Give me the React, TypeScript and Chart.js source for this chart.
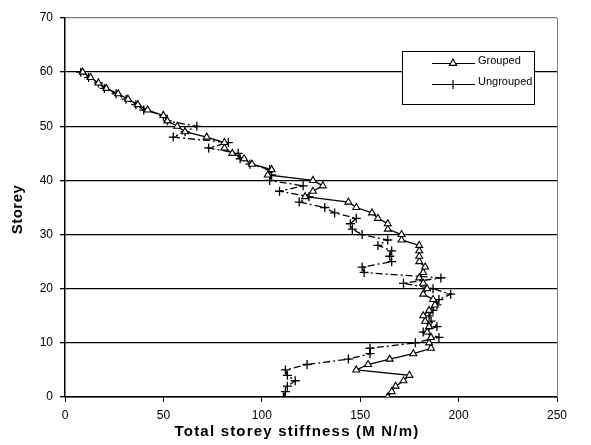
import React, { useEffect, useRef } from "react";
import { Chart, registerables } from "chart.js";

Chart.register(...registerables);

const storeys = [0,1,2,3,4,5,6,7,8,9,10,11,12,13,14,15,16,17,18,19,20,21,22,23,24,25,26,27,28,29,30,31,32,33,34,35,36,37,38,39,40,41,42,43,44,45,46,47,48,49,50,51,52,53,54,55,56,57,58,59,60];

const grouped = [164,166,168,172,175,148,154,165,177,186,185,186,184,185,183,182,185,188,187,182,184,182,180,182,183,180,180,180,180,171,171,164,164,159,156,148,144,122,126,131,126,103,105,95,91,85,81,81,72,61,57,52,50,42,37,32,27,21,17,13,9];

const ungrouped = [111,112,113,117,113,112,123,144,155,155,178,190,182,189,186,185,187,189,190,196,187,172,191,152,151,166,165,166,159,164,151,146,145,148,137,132,119,124,109,121,104,105,104,94,89,88,73,83,55,61,67,52,50,40,36,31,26,20,17,12,8];

const seriesNames = ["Grouped", "Ungrouped"];
const xTitle = "Total storey stiffness (M N/m)";
const yTitle = "Storey";

const FONT = "'Liberation Sans', Arial, sans-serif";

function drawTriangle(ctx: CanvasRenderingContext2D, x: number, y: number, r: number) {
  ctx.beginPath();
  ctx.moveTo(x, y - r);
  ctx.lineTo(x + r * 0.9, y + r * 0.6);
  ctx.lineTo(x - r * 0.9, y + r * 0.6);
  ctx.closePath();
  ctx.fillStyle = "#fff";
  ctx.fill();
  ctx.stroke();
}

function drawPlus(ctx: CanvasRenderingContext2D, x: number, y: number, r: number) {
  ctx.beginPath();
  ctx.moveTo(x - r, y);
  ctx.lineTo(x + r, y);
  ctx.moveTo(x, y - r);
  ctx.lineTo(x, y + r);
  ctx.stroke();
}

const extras = {
  id: "extras",
  afterDraw(chart: any) {
    const ctx = chart.ctx as CanvasRenderingContext2D;
    const a = chart.chartArea;
    ctx.save();
    // right plot border
    ctx.strokeStyle = "#808080";
    ctx.lineWidth = 1;
    ctx.beginPath();
    ctx.moveTo(a.right + 0.5, a.top);
    ctx.lineTo(a.right + 0.5, a.bottom);
    ctx.stroke();

    // legend
    const bx = 402.5, by = 51.5, bw = 132, bh = 53;
    ctx.fillStyle = "#fff";
    ctx.fillRect(bx, by, bw, bh);
    ctx.strokeStyle = "#000";
    ctx.lineWidth = 1;
    ctx.strokeRect(bx, by, bw, bh);
    const rows = [63, 84];
    ctx.font = `11px ${FONT}`;
    ctx.textBaseline = "middle";
    ctx.textAlign = "left";
    rows.forEach((ry, i) => {
      ctx.strokeStyle = "#000";
      ctx.lineWidth = 1.2;
      ctx.beginPath();
      ctx.moveTo(432, ry + 0.5);
      ctx.lineTo(475, ry + 0.5);
      ctx.stroke();
      if (i === 0) drawTriangle(ctx, 453, ry, 4);
      else drawPlus(ctx, 453, ry + 0.5, 4.5);
      ctx.fillStyle = "#000";
      ctx.fillText(seriesNames[i], 478, ry - 2);
    });

    // axis titles
    ctx.fillStyle = "#000";
    ctx.font = `bold 15px ${FONT}`;
    (ctx as any).letterSpacing = "1.2px";
    ctx.textAlign = "center";
    ctx.textBaseline = "middle";
    ctx.fillText(xTitle, 297, 432);
    (ctx as any).letterSpacing = "0.5px";
    ctx.translate(18, (a.top + a.bottom) / 2 + 2);
    ctx.rotate(-Math.PI / 2);
    ctx.font = `bold 15px ${FONT}`;
    ctx.fillText(yTitle, 0, 0);
    ctx.restore();
  },
};

export default function App() {
  const ref = useRef<HTMLCanvasElement | null>(null);
  useEffect(() => {
    document.body.style.margin = "0";
    const canvas = ref.current;
    if (!canvas) return;
    const chart = new Chart(canvas, {
      type: "scatter",
      data: {
        datasets: [
          {
            label: seriesNames[0],
            data: storeys.map((s, i) => ({ x: grouped[i], y: s })),
            showLine: true,
            borderColor: "#000",
            borderWidth: 1.3,
            pointStyle: "triangle",
            pointRadius: 4,
            pointBackgroundColor: "#fff",
            pointBorderColor: "#000",
            pointBorderWidth: 1.1,
          },
          {
            label: seriesNames[1],
            data: storeys.map((s, i) => ({ x: ungrouped[i], y: s })),
            showLine: true,
            borderColor: "#000",
            borderWidth: 1.3,
            borderDash: [7, 3, 2, 3],
            pointStyle: "cross",
            pointRadius: 4.5,
            pointBorderColor: "#000",
            pointBorderWidth: 1.3,
          },
        ],
      },
      options: {
        animation: false,
        responsive: false,
        maintainAspectRatio: false,
        layout: { padding: { left: 0, right: 34, top: 18, bottom: 0 } },
        plugins: { legend: { display: false }, tooltip: { enabled: false } },
        scales: {
          x: {
            type: "linear",
            min: 0,
            max: 250,
            ticks: { stepSize: 50, color: "#000", font: { size: 12, family: FONT }, padding: 6, maxRotation: 0 },
            grid: { drawOnChartArea: false, drawTicks: true, tickLength: 5, color: "#000", lineWidth: 1 },
            border: { color: "#000", width: 1.5 },
            afterFit: (s: any) => { s.height = 48; },
          },
          y: {
            type: "linear",
            min: 0,
            max: 70,
            ticks: { stepSize: 10, color: "#000", font: { size: 12, family: FONT }, padding: 7 },
            grid: {
              color: (c: any) => (c.tick && c.tick.value === 70 ? "#808080" : "#000"),
              lineWidth: 1.3,
              tickLength: 5,
              tickColor: "#000",
            },
            border: { color: "#000", width: 1.5 },
            afterFit: (s: any) => { s.width = 65; },
          },
        },
      },
      plugins: [extras],
    });
    return () => chart.destroy();
  }, []);
  return <canvas ref={ref} width={591} height={445} style={{ display: "block", width: 591, height: 445 }} />;
}
